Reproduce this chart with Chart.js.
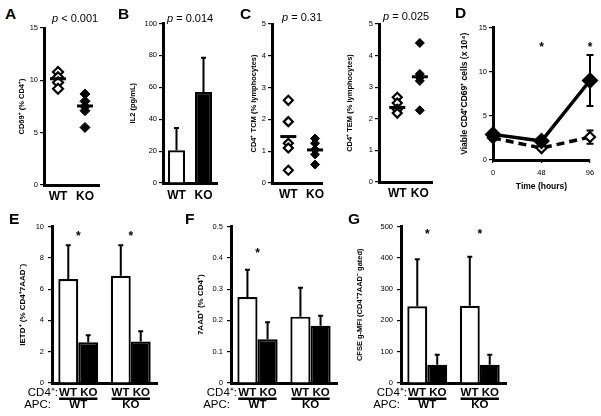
<!DOCTYPE html>
<html><head><meta charset="utf-8">
<script src="https://cdn.jsdelivr.net/npm/chart.js@4"></script>
<style>
html,body{margin:0;padding:0;background:#fff;}
#fig{position:relative;width:601px;height:416px;overflow:hidden;font-family:'Liberation Sans',Arial,Helvetica,sans-serif;color:#000;}
canvas{position:absolute;}
.lt{position:absolute;font-weight:bold;font-size:15.5px;line-height:15px;}
.pv{position:absolute;font-size:11px;line-height:13px;white-space:nowrap;}
</style></head>
<body><div id="fig">
<canvas id="cA"></canvas><canvas id="cB"></canvas><canvas id="cC1"></canvas><canvas id="cC2"></canvas>
<canvas id="cD"></canvas><canvas id="cE"></canvas><canvas id="cF"></canvas><canvas id="cG"></canvas>
<div class="lt" style="left:5px;top:6px">A</div>
<div class="lt" style="left:118px;top:6px">B</div>
<div class="lt" style="left:240px;top:6px">C</div>
<div class="lt" style="left:455px;top:5px">D</div>
<div class="lt" style="left:9px;top:211px">E</div>
<div class="lt" style="left:185px;top:211px">F</div>
<div class="lt" style="left:348px;top:211px">G</div>
<div class="pv" style="left:52px;top:12px"><i>p</i> &lt; 0.001</div>
<div class="pv" style="left:167px;top:12px"><i>p</i> = 0.014</div>
<div class="pv" style="left:282px;top:11px"><i>p</i> = 0.31</div>
<div class="pv" style="left:383px;top:10px"><i>p</i> = 0.025</div>
</div>
<script>
// ---------- data ----------
const groups = ['WT', 'KO'];
// A: CD69+ (% CD4+)
const aWT = [10.8, 10.3, 9.8, 9.2];
const aKO = [8.7, 8.0, 7.5, 7.1, 5.5];
const aMean = [10.15, 7.55];
// B: IL2 (pg/mL)
const bMean = [20.5, 57];
const bErr = [14, 21.5];
// C: CD4+ TCM
const cTcmWT = [2.6, 1.93, 1.25, 1.1, 0.4];
const cTcmKO = [1.4, 1.25, 1.05, 0.9, 0.58];
const cTcmMean = [1.46, 1.04];
// C: CD4+ TEM
const cTemWT = [2.68, 2.5, 2.3, 2.18];
const cTemKO = [4.4, 3.42, 3.3, 3.2, 2.27];
const cTemMean = [2.36, 3.33];
// D: viable CD4+CD69+ cells
const dTime = [0, 48, 96];
const dKO = [2.9, 2.15, 9.0];
const dKOerr = [0.3, 0.3, 2.9];
const dWT = [2.5, 1.35, 2.6];
const dWTerr = [0.25, 0.2, 0.75];
const dStars = [48, 96];
// E/F/G: CD4 WT / KO with APC WT / KO
const apcGroups = ['WT', 'KO'];
const cd4Groups = ['WT', 'KO'];
const eWT = [6.65, 6.85], eWTerr = [2.15, 1.95];
const eKO = [2.6, 2.65], eKOerr = [0.45, 0.65];
const fWT = [0.275, 0.212], fWTerr = [0.087, 0.092];
const fKO = [0.14, 0.183], fKOerr = [0.054, 0.032];
const gWT = [245, 247], gWTerr = [150, 156];
const gKO = [58, 58], gKOerr = [32, 32];
const eStars = [0, 1], fStars = [0], gStars = [0, 1];

// ---------- helpers ----------
const F = "'Liberation Sans', Arial, Helvetica, sans-serif";
Chart.defaults.font.family = F;
Chart.defaults.color = '#000';

const errPlugin = {
  id: 'errbars',
  beforeDatasetsDraw(chart) {
    const ctx = chart.ctx, ys = chart.scales.y;
    chart.data.datasets.forEach((ds, di) => {
      if (!ds.errUp) return;
      const meta = chart.getDatasetMeta(di);
      const cap = ds.capHalf || 2.5;
      meta.data.forEach((el, i) => {
        const v = ds.data[i];
        const val = (typeof v === 'object') ? v.y : v;
        const e = ds.errUp[i];
        const x = el.x, y0 = ys.getPixelForValue(val), y1 = ys.getPixelForValue(val + e);
        ctx.save();
        ctx.strokeStyle = '#000'; ctx.lineWidth = 2;
        ctx.beginPath();
        ctx.moveTo(x, y0); ctx.lineTo(x, y1);
        ctx.moveTo(x - cap, y1); ctx.lineTo(x + cap, y1);
        if (ds.errBoth) {
          const y2 = ys.getPixelForValue(val - e);
          ctx.moveTo(x, y0); ctx.lineTo(x, y2);
          ctx.moveTo(x - cap, y2); ctx.lineTo(x + cap, y2);
        }
        ctx.stroke();
        ctx.restore();
      });
    });
  }
};

function starPlugin(xs, yv) {
  return { id: 'stars', afterDraw(chart) {
    const ctx = chart.ctx, sx = chart.scales.x, sy = chart.scales.y;
    ctx.save(); ctx.fillStyle = '#000'; ctx.font = 'bold 12px ' + F;
    ctx.textAlign = 'center'; ctx.textBaseline = 'middle';
    xs.forEach(x => ctx.fillText('*', sx.getPixelForValue(x), sy.getPixelForValue(yv) + 2));
    ctx.restore();
  }};
}

function groupLabelPlugin() {
  return { id: 'grp', afterDraw(chart) {
    const ctx = chart.ctx, sx = chart.scales.x, a = chart.chartArea;
    const y1 = a.bottom + 10, y2 = a.bottom + 22;
    ctx.save(); ctx.fillStyle = '#000'; ctx.textBaseline = 'middle';
    ctx.font = '11.5px ' + F; ctx.textAlign = 'right';
    ctx.fillText('CD4\u207A:', a.left + 6, y1);
    ctx.fillText('APC:', a.left - 1, y2);
    ctx.font = 'bold 11.5px ' + F; ctx.textAlign = 'center';
    apcGroups.forEach((g, i) => {
      const x = sx.getPixelForValue(i);
      const t = cd4Groups.join(' ');
      ctx.fillText(t, x, y1);
      const w = ctx.measureText(t).width;
      ctx.fillRect(x - w / 2, y1 + 4.5, w, 2.5);
      ctx.fillText(g, x, y2);
    });
    ctx.restore();
  }};
}

function yAx(min, max, step, title, tsize, pad) {
  return { type: 'linear', position: 'left', min, max,
    ticks: { stepSize: step, font: { size: 7.5 }, color: '#000', padding: pad || 2,
             callback: v => String(+Number(v).toFixed(2)) },
    grid: { drawOnChartArea: false, drawTicks: true, tickLength: 4, color: '#000', lineWidth: 1.2 },
    border: { display: true, color: '#000', width: 3 },
    title: { display: true, text: title, color: '#000', font: { size: tsize, weight: 'bold' }, padding: { top: 0, bottom: 0 } } };
}
function xLin(min, max) {
  return { type: 'linear', min, max,
    afterBuildTicks: s => { s.ticks = [{ value: 1 }, { value: 2 }]; },
    ticks: { callback: v => groups[v - 1], font: { size: 12, weight: 'bold' }, color: '#000', padding: 4, maxRotation: 0, autoSkip: false },
    grid: { drawOnChartArea: false, drawTicks: false },
    border: { display: true, color: '#000', width: 3 } };
}
function xCat(show) {
  return { type: 'category',
    ticks: { display: show, font: { size: 12, weight: 'bold' }, color: '#000', padding: 5, maxRotation: 0 },
    grid: { drawOnChartArea: false, drawTicks: false },
    border: { display: true, color: '#000', width: 3 } };
}
function panel(id, area, Yw, Xh, Pt, Pr, config) {
  const c = document.getElementById(id);
  const left = area.l - Yw, top = area.t - Pt, w = Math.round(area.r + Pr - left), h = Math.round(area.b + Xh - top);
  Object.assign(c.style, { left: left + 'px', top: top + 'px', width: w + 'px', height: h + 'px' });
  c.width = w; c.height = h;
  const o = config.options;
  o.responsive = false; o.maintainAspectRatio = false; o.animation = false; o.events = [];
  o.layout = { padding: { left: 0, top: Pt, right: Pr, bottom: 0 } };
  o.plugins = Object.assign({ legend: { display: false }, tooltip: { enabled: false } }, o.plugins || {});
  o.scales.y.afterFit = s => { s.width = Yw; };
  o.scales.x.afterFit = s => { s.height = Xh; };
  return new Chart(c, config);
}
const pts = (xv, arr) => arr.map(v => ({ x: xv, y: v }));
function scatterSets(wt, ko, mean, r, mr) {
  return [
    { data: [{ x: 1, y: mean[0] }, { x: 2, y: mean[1] }], pointStyle: 'line', pointRadius: mr, borderColor: '#000', pointBorderWidth: 3, borderWidth: 3, clip: false },
    { data: pts(1, wt), pointStyle: 'rectRot', pointRadius: r, pointBackgroundColor: '#fff', pointBorderColor: '#000', pointBorderWidth: 2.2, clip: false },
    { data: pts(2, ko), pointStyle: 'rectRot', pointRadius: r, pointBackgroundColor: '#000', pointBorderColor: '#000', pointBorderWidth: 1, clip: false }
  ];
}

// ---------- A ----------
panel('cA', { l: 44, t: 23, r: 107, b: 185 }, 27, 20, 6, 3, {
  type: 'scatter',
  data: { datasets: scatterSets(aWT, aKO, aMean, 5, 8) },
  options: { scales: { x: xLin(0.48, 2.52), y: yAx(0, 15, 5, 'CD69\u207A (% CD4\u207A)', 7.5) } }
});
// ---------- B ----------
panel('cB', { l: 163, t: 23, r: 217, b: 183 }, 35, 22, 6, 3, {
  type: 'bar',
  data: { labels: groups, datasets: [{ data: bMean, errUp: bErr, backgroundColor: ['#fff', '#000'], borderColor: '#000', borderWidth: 2.2, barPercentage: 0.63, categoryPercentage: 1 }] },
  options: { scales: { x: xCat(true), y: yAx(0, 100, 20, 'IL2 (pg/mL)', 7.5) } },
  plugins: [errPlugin]
});
// ---------- C (TCM) ----------
panel('cC1', { l: 272, t: 19, r: 330, b: 183 }, 23, 22, 6, 3, {
  type: 'scatter',
  data: { datasets: scatterSets(cTcmWT, cTcmKO, cTcmMean, 4.5, 8) },
  options: { scales: { x: xLin(0.39, 2.26), y: yAx(0, 5, 1, 'CD4\u207A TCM (% lymphocytes)', 7.5) } }
});
// ---------- C (TEM) ----------
panel('cC2', { l: 379, t: 19, r: 440, b: 182 }, 34, 22, 6, 3, {
  type: 'scatter',
  data: { datasets: scatterSets(cTemWT, cTemKO, cTemMean, 4.5, 8) },
  options: { scales: { x: xLin(0.19, 2.54), y: yAx(0, 5, 1, 'CD4\u207A TEM (% lymphocytes)', 7.5) } }
});
// ---------- D ----------
panel('cD', { l: 493, t: 24, r: 590, b: 160 }, 33, 32, 6, 10, {
  type: 'line',
  data: { datasets: [
    { data: dTime.map((t, i) => ({ x: t, y: dKO[i] })), errUp: dKOerr, errBoth: true, capHalf: 3.5, borderColor: '#000', borderWidth: 3.5, pointStyle: 'rectRot', pointRadius: 6, pointBackgroundColor: '#000', pointBorderColor: '#000', tension: 0, clip: false },
    { data: dTime.map((t, i) => ({ x: t, y: dWT[i] })), errUp: dWTerr, errBoth: true, capHalf: 3.5, borderColor: '#000', borderWidth: 3.5, borderDash: [8, 5], pointStyle: 'rectRot', pointRadius: 5, pointBackgroundColor: '#fff', pointBorderColor: '#000', pointBorderWidth: 2.2, tension: 0, clip: false }
  ] },
  options: { scales: {
    x: { type: 'linear', min: 0, max: 96, ticks: { stepSize: 48, font: { size: 7.5 }, color: '#000', padding: 5, maxRotation: 0 },
         grid: { drawOnChartArea: false, drawTicks: true, tickLength: 3, color: '#000', lineWidth: 1.2 },
         border: { display: true, color: '#000', width: 3 },
         title: { display: true, text: 'Time (hours)', color: '#000', font: { size: 8.5, weight: 'bold' }, padding: { top: 0, bottom: 0 } } },
    y: yAx(0, 15, 5, 'Viable CD4\u207ACD69\u207A cells (x 10\u2074)', 8.5) } },
  plugins: [errPlugin, starPlugin(dStars, 12.9)]
});
// ---------- E/F/G ----------
function groupedBars(wt, wtErr, ko, koErr) {
  return { labels: apcGroups, datasets: [
    { data: wt, errUp: wtErr, backgroundColor: '#fff', borderColor: '#000', borderWidth: 2.2, barPercentage: 1, categoryPercentage: 0.76 },
    { data: ko, errUp: koErr, backgroundColor: '#000', borderColor: '#000', borderWidth: 2.2, barPercentage: 1, categoryPercentage: 0.76 }
  ] };
}
panel('cE', { l: 52, t: 224, r: 157, b: 383 }, 34, 30, 6, 3, {
  type: 'bar', data: groupedBars(eWT, eWTerr, eKO, eKOerr),
  options: { scales: { x: xCat(false), y: yAx(0, 10, 2, 'IETD\u207A (% CD4\u207A7AAD\u207B)', 8, 4) } },
  plugins: [errPlugin, starPlugin(eStars, 9.5), groupLabelPlugin()]
});
panel('cF', { l: 231, t: 224, r: 337, b: 383 }, 35, 30, 6, 3, {
  type: 'bar', data: groupedBars(fWT, fWTerr, fKO, fKOerr),
  options: { scales: { x: xCat(false), y: yAx(0, 0.5, 0.1, '7AAD\u207A (% CD4\u207A)', 8, 4) } },
  plugins: [errPlugin, starPlugin(fStars, 0.42), groupLabelPlugin()]
});
panel('cG', { l: 401, t: 224, r: 506, b: 383 }, 46, 30, 6, 3, {
  type: 'bar', data: groupedBars(gWT, gWTerr, gKO, gKOerr),
  options: { scales: { x: xCat(false), y: yAx(0, 500, 100, 'CFSE g-MFI (CD4\u207A7AAD\u207B gated)', 7.5, 4) } },
  plugins: [errPlugin, starPlugin(gStars, 481), groupLabelPlugin()]
});
</script>
</body></html>
